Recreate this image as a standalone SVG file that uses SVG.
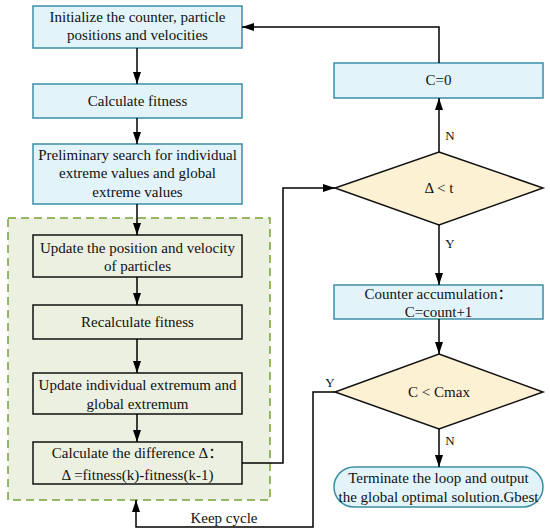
<svg xmlns="http://www.w3.org/2000/svg" width="550" height="532" viewBox="0 0 550 532" font-family="Liberation Serif, Noto Sans CJK SC, serif">
<style>
.t{font-size:15px;fill:#111;text-anchor:middle}
.l{font-size:13px;fill:#111;text-anchor:middle}
.blue{fill:#e2f4fa;stroke:#3b8ea5;stroke-width:1.5}
.inner{fill:#ebf0e0;stroke:#111;stroke-width:1.5}
.dia{fill:#fdf1d3;stroke:#111;stroke-width:1.5}
.c{fill:none;stroke:#000;stroke-width:1.5;marker-end:url(#ah)}
</style>
<defs>
<marker id="ah" viewBox="0 0 12 8" refX="12" refY="4" markerWidth="12" markerHeight="8" markerUnits="userSpaceOnUse" orient="auto">
<path d="M0,0 L12,4 L0,8 z" fill="#000"/>
</marker>
</defs>
<rect width="550" height="532" fill="#fff"/>
<g id="loop-region">
<rect x="8" y="218" width="262" height="282" fill="#ebf0e0" stroke="#77a03a" stroke-width="1.5" stroke-dasharray="8,5"/>
</g>
<g id="n1"><rect class="blue" x="33" y="6" width="209" height="42"/>
<text class="t" x="137.5" y="22">Initialize the counter, particle</text>
<text class="t" x="137.5" y="40">positions and velocities</text></g>
<g id="n2"><rect class="blue" x="33" y="84" width="209" height="34"/>
<text class="t" x="137.5" y="106">Calculate fitness</text></g>
<g id="n3"><rect class="blue" x="33" y="144" width="209" height="60"/>
<text class="t" x="137.5" y="160">Preliminary search for individual</text>
<text class="t" x="137.5" y="178">extreme values and global</text>
<text class="t" x="137.5" y="197">extreme values</text></g>
<g id="n4"><rect class="inner" x="33" y="235" width="209" height="42"/>
<text class="t" x="137.5" y="253">Update the position and velocity</text>
<text class="t" x="137.5" y="271">of particles</text></g>
<g id="n5"><rect class="inner" x="33" y="305" width="209" height="34"/>
<text class="t" x="137.5" y="327">Recalculate fitness</text></g>
<g id="n6"><rect class="inner" x="33" y="373" width="209" height="41"/>
<text class="t" x="137.5" y="390">Update individual extremum and</text>
<text class="t" x="137.5" y="409">global extremum</text></g>
<g id="n7"><rect class="inner" x="33" y="442" width="209" height="42"/>
<text class="t" x="137.5" y="458">Calculate the difference Δ：</text>
<text class="t" x="137.5" y="480">Δ =fitness(k)-fitness(k-1)</text></g>
<g id="n8"><rect class="blue" x="334" y="63" width="209" height="35"/>
<text class="t" x="438.5" y="85">C=0</text></g>
<g id="n9"><polygon class="dia" points="439,152 543,188 439,225 335,188"/>
<text class="t" x="439" y="193">Δ &lt;  t</text></g>
<g id="n10"><rect class="blue" x="334" y="285" width="209" height="34"/>
<text class="t" x="438.5" y="299">Counter accumulation：</text>
<text class="t" x="438.5" y="317">C=count+1</text></g>
<g id="n11"><polygon class="dia" points="439,354 543,392 439,429 335,392"/>
<text class="t" x="439" y="397">C &lt; Cmax</text></g>
<g id="n12"><rect class="blue" x="334" y="467" width="209" height="40" rx="20" ry="20"/>
<text class="t" x="438.5" y="483">Terminate the loop and output</text>
<text class="t" x="438.5" y="502">the global optimal solution.Gbest</text></g>
<g id="connectors">
<line class="c" x1="137" y1="48" x2="137" y2="84"/>
<line class="c" x1="137" y1="118" x2="137" y2="144"/>
<line class="c" x1="137" y1="204" x2="137" y2="235"/>
<line class="c" x1="137" y1="277" x2="137" y2="305"/>
<line class="c" x1="137" y1="339" x2="137" y2="373"/>
<line class="c" x1="137" y1="414" x2="137" y2="442"/>
<polyline class="c" points="242,463 283,463 283,188 335,188"/>
<line class="c" x1="439" y1="152" x2="439" y2="98"/>
<polyline class="c" points="439,63 439,27 242,27"/>
<line class="c" x1="439" y1="225" x2="439" y2="285"/>
<line class="c" x1="439" y1="319" x2="439" y2="354"/>
<line class="c" x1="439" y1="429" x2="439" y2="467"/>
<polyline class="c" points="335,392 313,392 313,527 136,527 136,500"/>
<text class="l" x="450" y="140">N</text>
<text class="l" x="450" y="248">Y</text>
<text class="l" x="330" y="387">Y</text>
<text class="l" x="450" y="445">N</text>
<text class="t" x="224" y="523">Keep cycle</text>
</g>
</svg>
